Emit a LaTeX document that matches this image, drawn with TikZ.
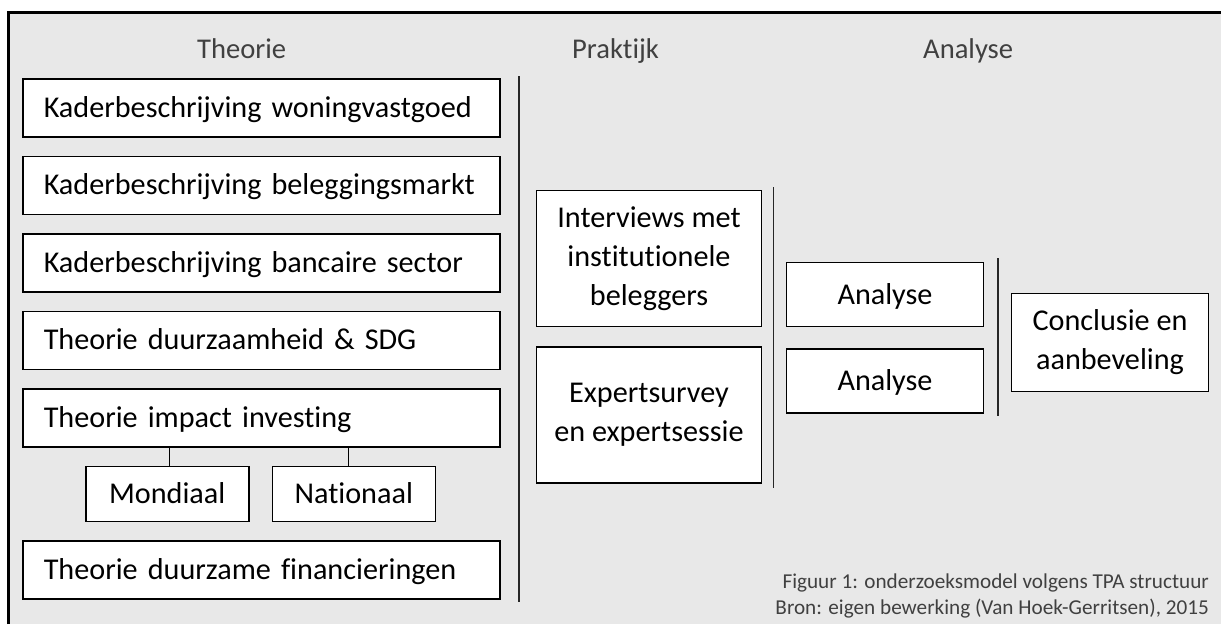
\documentclass[tikz,border=0pt]{standalone}
\usepackage{fontspec}
\setmainfont{Carlito}[Ligatures=NoCommon]
\usetikzlibrary{positioning}
\definecolor{panelgray}{HTML}{E8E8E8}
\definecolor{labelgray}{HTML}{404040}
\tikzset{
  box/.style={draw=black, fill=white, line width=1.5pt, inner sep=0pt,
    font=\fontsize{30.2pt}{39pt}\selectfont},
  oneline/.style={text height=19.4pt, text depth=0pt},
  theobox/.style={box, oneline, minimum height=58pt, text width=435pt,
    inner xsep=21pt, align=left},
  subbox/.style={box, oneline, minimum width=163pt, minimum height=55pt},
  praktbox/.style={box, minimum width=225pt, minimum height=136pt, align=center},
  anabox/.style={box, oneline, minimum width=197pt, minimum height=64pt},
  conclbox/.style={box, minimum width=197pt, minimum height=98pt, align=center},
  header/.style={inner sep=0pt, anchor=base west, text=labelgray,
    font=\fontsize{28.6pt}{39pt}\selectfont},
  caption/.style={inner sep=0pt, anchor=base east, text=labelgray,
    font=\fontsize{21.2pt}{26pt}\selectfont},
  sep/.style={line width=1.3pt, black!85},
  link/.style={line width=1pt}
}
\begin{document}
\begin{tikzpicture}[x=1pt, y=-1pt, node distance=18pt]
  \useasboundingbox (0,0) rectangle (1221,624);
  \fill[panelgray] (8.5,12.5) rectangle (1221,624);
  \draw[line width=2.5pt] (8.5,624) -- (8.5,12.5) -- (1221,12.5);

  \node[header] (theoriehead) at (197,58) {Theorie};
  \node[header] (praktijkhead) at (572,58) {Praktijk};
  \node[header] (analysehead) at (923,58) {Analyse};

  % theorie
  \node[theobox, anchor=north west] (woning) at (22,78) {Kaderbeschrijving woningvastgoed};
  \node[theobox, below=of woning] (belegging) {Kaderbeschrijving beleggingsmarkt};
  \node[theobox, below=of belegging] (bancair) {Kaderbeschrijving bancaire sector};
  \node[theobox, below=of bancair] (duurzaam) {Theorie duurzaamheid \& SDG};
  \node[theobox, below=of duurzaam] (impact) {Theorie impact investing};
  \node[subbox, below=of impact.south west, anchor=north west, xshift=63pt] (mondiaal) {Mondiaal};
  \node[subbox, right=22pt of mondiaal] (nationaal) {Nationaal};
  \node[theobox, anchor=north west] (financiering) at ([yshift=-18pt]mondiaal.south -| impact.west) {Theorie duurzame financieringen};

  % praktijk
  \node[praktbox] (interviews) at (649,258.5) {Interviews met\\institutionele\\beleggers};
  \node[praktbox, below=19pt of interviews] (expert) {Expertsurvey\\en expertsessie};

  % analyse
  \node[anabox] (analyse1) at (885,294.5) {Analyse};
  \node[anabox, below=21pt of analyse1] (analyse2) {Analyse};
  \node[conclbox] (conclusie) at (1110,342.5) {Conclusie en\\aanbeveling};

  \draw[sep] (519,76) -- (519,602);
  \draw[sep] (773.5,187) -- (773.5,488);
  \draw[sep] (998,258) -- (998,416);

  \draw[link] ([xshift=2pt]mondiaal.north |- impact.south) -- ([xshift=2pt]mondiaal.north);
  \draw[link] ([xshift=-5.5pt]nationaal.north |- impact.south) -- ([xshift=-5.5pt]nationaal.north);

  \node[caption] (figuur) at (1209,588) {Figuur 1: onderzoeksmodel volgens TPA structuur};
  \node[caption] (bron) at (1209,614) {Bron: eigen bewerking (Van Hoek-Gerritsen), 2015};
\end{tikzpicture}
\end{document}
